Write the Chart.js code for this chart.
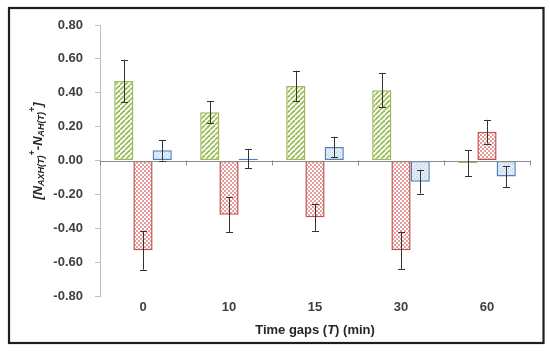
<!DOCTYPE html>
<html>
<head>
<meta charset="utf-8">
<script src="https://cdn.jsdelivr.net/npm/chart.js@4"></script>
<style>
html,body{margin:0;padding:0;background:#fff;}
canvas{display:block;}
</style>
</head>
<body>
<canvas id="c" width="550" height="351"></canvas>
<script>
const categories = ['0', '10', '15', '30', '60'];
const greenValues = [0.47, 0.285, 0.44, 0.415, -0.015];
const greenErrors = [0.125, 0.065, 0.09, 0.10, 0.077];
const redValues = [-0.53, -0.32, -0.335, -0.53, 0.17];
const redErrors = [0.115, 0.105, 0.08, 0.11, 0.07];
const blueValues = [0.06, 0.01, 0.08, -0.125, -0.095];
const blueErrors = [0.06, 0.055, 0.06, 0.07, 0.063];
const yMin = -0.8, yMax = 0.8, yStep = 0.2;

function makePattern(draw, w, h) {
  const c = document.createElement('canvas');
  c.width = w; c.height = h;
  const g = c.getContext('2d');
  draw(g, w, h);
  return g.createPattern(c, 'repeat');
}
const greenPat = makePattern((g, w, h) => {
  g.fillStyle = '#ffffff'; g.fillRect(0, 0, w, h);
  g.strokeStyle = '#9bbb59'; g.lineWidth = 1.8;
  for (let k = -1; k <= 1; k++) {
    g.beginPath(); g.moveTo(k * w, h); g.lineTo(k * w + w, 0); g.stroke();
  }
}, 5, 5);
const redPat = makePattern((g, w, h) => {
  g.fillStyle = '#e59e9c'; g.fillRect(0, 0, w, h);
  g.fillStyle = '#ffffff';
  g.fillRect(0, 0, 2, 2); g.fillRect(2, 2, 2, 2);
}, 4, 4);
const bluePat = makePattern((g, w, h) => {
  g.fillStyle = '#e1eaf5'; g.fillRect(0, 0, w, h);
  g.fillStyle = '#b7cbe6'; g.fillRect(0, 0, 1, 1); g.fillRect(2, 2, 1, 1);
}, 4, 4);

const errorSets = [greenErrors, redErrors, blueErrors];

const extras = {
  id: 'extras',
  afterDatasetsDraw(chart) {
    const ctx = chart.ctx;
    const y = chart.scales.y, x = chart.scales.x;
    const y0 = y.getPixelForValue(0);
    ctx.save();
    ctx.strokeStyle = '#8c8c8c'; ctx.lineWidth = 1;
    ctx.beginPath(); ctx.moveTo(chart.chartArea.left, Math.round(y0) + 0.5); ctx.lineTo(chart.chartArea.right, Math.round(y0) + 0.5); ctx.stroke();
    for (let i = 0; i <= categories.length; i++) {
      const px = Math.round(x.getPixelForValue(i - 0.5)) + 0.5;
      ctx.beginPath(); ctx.moveTo(px, y0); ctx.lineTo(px, y0 + 5); ctx.stroke();
    }
    ctx.strokeStyle = '#333333'; ctx.lineWidth = 1;
    chart.data.datasets.forEach((ds, di) => {
      const meta = chart.getDatasetMeta(di);
      meta.data.forEach((bar, i) => {
        const v = ds.data[i], e = errorSets[di][i];
        const top = y.getPixelForValue(v + e), bot = y.getPixelForValue(v - e);
        const cx = Math.round(bar.x) + 0.5;
        ctx.beginPath();
        ctx.moveTo(cx, top); ctx.lineTo(cx, bot);
        ctx.moveTo(cx - 3.5, Math.round(top) + 0.5); ctx.lineTo(cx + 3.5, Math.round(top) + 0.5);
        ctx.moveTo(cx - 3.5, Math.round(bot) + 0.5); ctx.lineTo(cx + 3.5, Math.round(bot) + 0.5);
        ctx.stroke();
      });
    });
    ctx.restore();
  },
  afterDraw(chart) {
    const ctx = chart.ctx;
    ctx.save();
    ctx.strokeStyle = '#1e1e1e'; ctx.lineWidth = 2.2;
    ctx.strokeRect(9, 8, 534.5, 335);
    ctx.fillStyle = '#262626';
    ctx.textAlign = 'left'; ctx.textBaseline = 'middle';
    const F = '13px "Liberation Sans", Arial, sans-serif';
    const parts = [['Time gaps (', 'bold '], ['T', 'italic bold '], [') (min)', 'bold ']];
    let total = 0;
    parts.forEach(p => { ctx.font = p[1] + F; total += ctx.measureText(p[0]).width; });
    let xx = (chart.chartArea.left + chart.chartArea.right) / 2 - total / 2;
    parts.forEach(p => { ctx.font = p[1] + F; ctx.fillText(p[0], xx, 330); xx += ctx.measureText(p[0]).width; });
    const main = 'italic bold 13px "Liberation Sans", Arial, sans-serif';
    const small = 'italic bold 9px "Liberation Sans", Arial, sans-serif';
    const segs = [['[N', main, 0], ['AXH(T)', small, 4], ['+', small, -5], ['-N', main, 0], ['AH(T)', small, 4], ['+', small, -5], [']', main, 0]];
    let w = 0;
    segs.forEach(s => { ctx.font = s[1]; w += ctx.measureText(s[0]).width; });
    ctx.translate(38, 151);
    ctx.rotate(-Math.PI / 2);
    let sx = -w / 2;
    segs.forEach(s => { ctx.font = s[1]; ctx.fillText(s[0], sx, s[2]); sx += ctx.measureText(s[0]).width; });
    ctx.restore();
  }
};

const tickFont = { family: '"Liberation Sans", Arial, sans-serif', size: 13, weight: 'bold' };

new Chart(document.getElementById('c'), {
  type: 'bar',
  data: {
    labels: categories,
    datasets: [
      { data: greenValues, backgroundColor: greenPat, borderColor: '#9bbb59', borderWidth: 1.5, borderSkipped: false },
      { data: redValues, backgroundColor: redPat, borderColor: '#c0504d', borderWidth: 1.5, borderSkipped: false },
      { data: blueValues, backgroundColor: bluePat, borderColor: '#4f81bd', borderWidth: 1.5, borderSkipped: false }
    ]
  },
  options: {
    responsive: false,
    animation: false,
    layout: { padding: { left: 0, right: 20, top: 25, bottom: 0 } },
    plugins: { legend: { display: false }, tooltip: { enabled: false } },
    datasets: { bar: { barPercentage: 1, categoryPercentage: 0.67 } },
    scales: {
      x: {
        grid: { display: false, drawTicks: false },
        border: { display: false },
        ticks: { color: '#404040', font: tickFont, padding: 4 },
        afterFit: s => { s.height = 55; }
      },
      y: {
        min: yMin, max: yMax,
        grid: { drawOnChartArea: false, tickLength: 5, tickColor: '#bfbfbf' },
        border: { color: '#bfbfbf' },
        ticks: { stepSize: yStep, color: '#404040', font: tickFont, padding: 12, callback: v => v.toFixed(2) },
        afterFit: s => { s.width = 100; }
      }
    }
  },
  plugins: [extras]
});
</script>
</body>
</html>
